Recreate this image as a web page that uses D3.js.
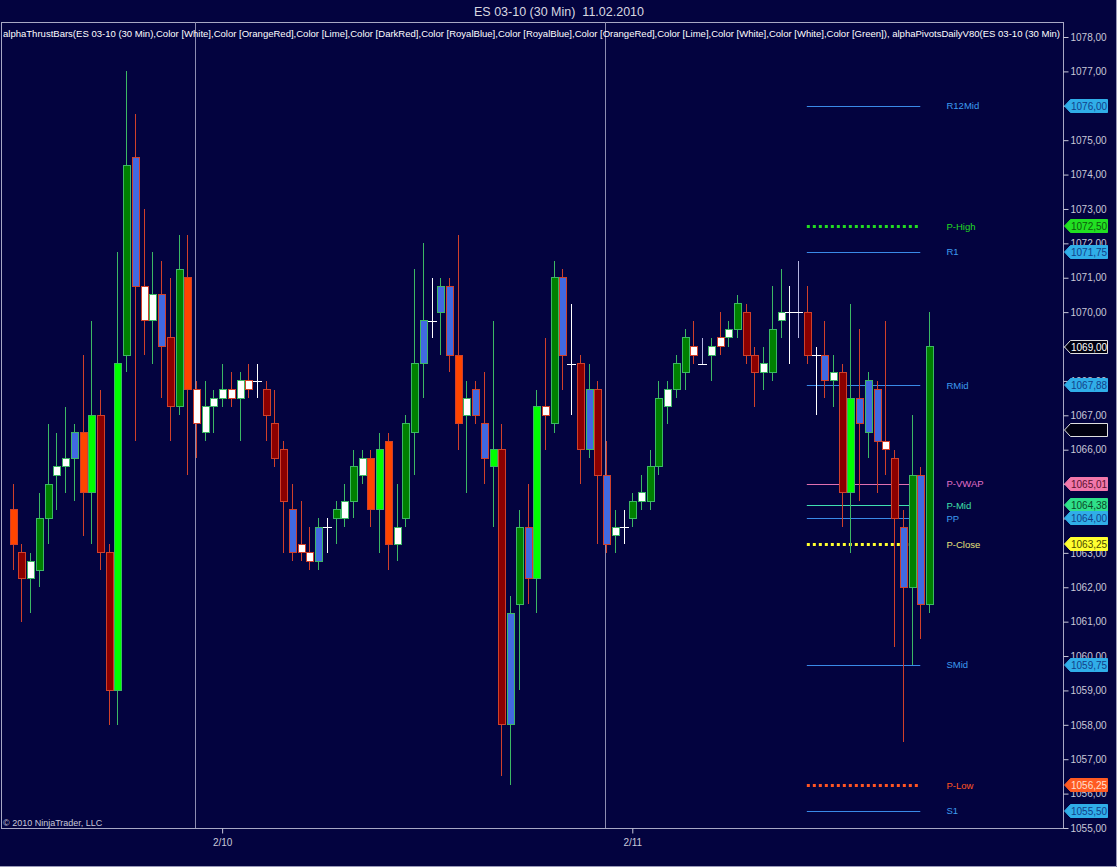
<!DOCTYPE html>
<html>
<head>
<meta charset="utf-8">
<script src="https://cdn.jsdelivr.net/npm/d3@7"></script>
<style>
  body { margin: 0; background: #03033f; }
  svg { display: block; font-family: Arial, "Liberation Sans", sans-serif; }
</style>
</head>
<body>
<svg id="chart" width="1117" height="867"></svg>
<script>
// ES 03-10, 30 min bars
const opens = [1064.25, 1063, 1062.25, 1062.5, 1064, 1065.25, 1065.5, 1065.75, 1066.5, 1064.75,
  1067, 1063, 1059, 1068.75, 1074.5, 1070.75, 1069.75, 1070.5, 1069.25, 1067.25,
  1071, 1067.75, 1066.5, 1067.25, 1067.5, 1067.75, 1067.5, 1068, 1068, 1067.75,
  1066.75, 1066, 1064.25, 1063.25, 1063, 1062.75, 1063.75, 1064, 1064, 1064.5,
  1065.25, 1065.75, 1064.25, 1066.25, 1063.25, 1064, 1066.5, 1068.5, 1069.75, 1070,
  1070.75, 1068.75, 1067, 1067.75, 1066.75, 1065.5, 1066, 1058, 1061.5, 1063.75,
  1062.25, 1067.25, 1066.75, 1071, 1068.5, 1068.5, 1066, 1067.75, 1065.25, 1063.5,
  1063.75, 1064, 1064.5, 1064.5, 1065.5, 1067.25, 1067.75, 1068.25, 1069, 1068.5,
  1068.75, 1069.25, 1069.25, 1069.5, 1070, 1068.75, 1068.25, 1068.25, 1069.75, 1070,
  1070, 1070, 1068.75, 1068.75, 1068, 1068.25, 1064.75, 1067.5, 1066.5, 1067.75,
  1066.25, 1065.75, 1063.75, 1062, 1065.25, 1061.5];
const highs = [1065, 1063.25, 1063, 1064.75, 1066.75, 1066.5, 1067.25, 1066.75, 1068.75, 1069.75,
  1067.75, 1063.25, 1071.75, 1077, 1075.75, 1073, 1071.75, 1071.5, 1071, 1072.25,
  1072.25, 1068, 1068, 1067.75, 1068.5, 1068.25, 1068.25, 1068.5, 1068.5, 1068,
  1067.75, 1066.25, 1065, 1064.5, 1063.75, 1064, 1064, 1064.5, 1065, 1066,
  1066, 1066, 1066.5, 1066.5, 1065, 1067, 1071.25, 1072, 1071, 1071,
  1071, 1072.25, 1068, 1068, 1068.25, 1069.75, 1066.75, 1061.75, 1064.25, 1065,
  1067.75, 1069.25, 1071.5, 1071.25, 1070.25, 1068.75, 1068.5, 1068, 1066.25, 1064.25,
  1064.25, 1064.75, 1065.25, 1066, 1068, 1068, 1068.75, 1069.5, 1069.75, 1069.25,
  1069.25, 1070, 1069.75, 1070.5, 1070.25, 1069, 1069, 1070.75, 1071.25, 1070.75,
  1071.5, 1070.75, 1069, 1069.75, 1068.75, 1068.5, 1070.25, 1069.5, 1068.25, 1068,
  1069.75, 1066, 1064.25, 1067, 1065.5, 1070];
const lows = [1062.5, 1061, 1061.25, 1062, 1063.25, 1064.25, 1064.75, 1064.5, 1063.5, 1063.25,
  1062.5, 1058, 1058, 1068.25, 1066.25, 1068.75, 1068.5, 1067.5, 1066.25, 1067,
  1065.25, 1065.75, 1066.25, 1066.5, 1067.25, 1067.25, 1066.25, 1067.5, 1067.5, 1066.25,
  1065.5, 1063, 1062.75, 1062.75, 1062.5, 1062.5, 1063, 1063.25, 1063.75, 1064,
  1065, 1063.75, 1063, 1062.5, 1062.75, 1063.75, 1065.25, 1067.5, 1069.25, 1068.75,
  1068.25, 1066, 1064.75, 1066.75, 1065, 1063.75, 1056.5, 1056.25, 1059, 1061.5,
  1061.25, 1066, 1066.5, 1067.75, 1067, 1065, 1065.75, 1063.25, 1063, 1063,
  1063.25, 1063.75, 1064.25, 1064.25, 1065.25, 1066.75, 1067.5, 1067.75, 1068.5, 1068.5,
  1068, 1068.75, 1069, 1069.25, 1068.5, 1067.25, 1067.75, 1068, 1069.25, 1068.5,
  1069.25, 1068.5, 1067, 1067.5, 1067.25, 1063.75, 1063, 1064.5, 1065.75, 1064.75,
  1065.25, 1060.25, 1057.5, 1059.75, 1060.5, 1061.25];
const closes = [1063.25, 1062.25, 1062.75, 1064, 1065, 1065.5, 1065.75, 1066.5, 1064.75, 1067,
  1063, 1059, 1068.5, 1074.25, 1070.75, 1069.75, 1070.5, 1069, 1067.25, 1071.25,
  1067.75, 1066.75, 1067.25, 1067.5, 1067.75, 1067.5, 1068, 1067.75, 1068, 1067,
  1065.75, 1064.5, 1063, 1063, 1062.75, 1063.75, 1063.75, 1064.25, 1064.5, 1065.5,
  1065.75, 1064.25, 1066, 1063.25, 1063.75, 1066.75, 1068.5, 1069.75, 1069.75, 1070.75,
  1068.75, 1066.75, 1067.5, 1067, 1065.75, 1066, 1058, 1061.25, 1063.75, 1062.25,
  1067.25, 1067, 1071, 1068.75, 1068.5, 1066, 1067.75, 1065.25, 1063.25, 1063.75,
  1063.75, 1064.5, 1064.75, 1065.5, 1067.5, 1067.75, 1068.5, 1069.25, 1068.75, 1068.5,
  1069, 1069, 1069.5, 1070.25, 1068.75, 1068.25, 1068.5, 1069.5, 1070, 1070,
  1070, 1068.75, 1068.75, 1068, 1068.25, 1064.75, 1067.5, 1066.75, 1068, 1066.25,
  1066, 1064, 1062, 1065.25, 1061.5, 1069];
// W white, O orangered, L lime, D darkred, B royalblue, G green, X / Y doji
const barColors = ["O", "D", "W", "G", "G", "W", "W", "B", "O", "L",
  "D", "D", "L", "G", "B", "W", "W", "B", "D", "G",
  "O", "W", "W", "W", "W", "W", "W", "W", "X", "D",
  "D", "D", "B", "W", "W", "B", "X", "G", "W", "G",
  "W", "O", "L", "O", "W", "G", "G", "B", "X", "B",
  "B", "O", "W", "B", "B", "L", "D", "B", "G", "B",
  "L", "W", "G", "B", "X", "D", "B", "D", "B", "W",
  "X", "G", "W", "G", "G", "W", "G", "G", "W", "Y",
  "W", "W", "W", "G", "D", "D", "W", "G", "W", "X",
  "Y", "D", "X", "B", "W", "D", "L", "B", "B", "B",
  "W", "D", "B", "G", "B", "G"];

const sessionBreaks = [21, 68];
const dateLabels = ["2/10", "2/11"];
const dateBars = [24, 71];

const pivotNames = ["R12Mid", "P-High", "R1", "RMid", "P-VWAP", "P-Mid", "PP", "P-Close", "SMid", "P-Low", "S1"];
const pivotValues = [1076.00, 1072.50, 1071.75, 1067.88, 1065.01, 1064.38, 1064.00, 1063.25, 1059.75, 1056.25, 1055.50];
const blankTags = [1066.57];

const priceTicks = d3.range(1055, 1079);

// styles
const fillMap = { W: "#ffffff", O: "#ff4500", L: "#00ff00", D: "#8b0000", B: "#4169e1", G: "#008000", X: "#ffffff", Y: "#b4b4e0" };
const upColor = "#3cb864", downColor = "#d0402a";
const blueLine = { line: "#3a8ae8", dash: null, w: 1, label: "#3d9cf0", tag: "#30aee8", tagText: "#123f8a" };
const pivotStyle = {
  "R12Mid": blueLine, "R1": blueLine, "RMid": blueLine, "PP": blueLine, "SMid": blueLine, "S1": blueLine,
  "P-High": { line: "#22dd22", dash: "3,3", w: 3, label: "#22dd22", tag: "#22e022", tagText: "#0c5a0c" },
  "P-VWAP": { line: "#e070b0", dash: null, w: 1, label: "#e070c8", tag: "#f277aa", tagText: "#5a1030" },
  "P-Mid": { line: "#40e0b0", dash: null, w: 1, label: "#40e0a8", tag: "#2fe08a", tagText: "#0c4a28" },
  "P-Close": { line: "#ffff30", dash: "3,3", w: 3, label: "#e6e07a", tag: "#ffff30", tagText: "#4a4a00" },
  "P-Low": { line: "#ff5522", dash: "3,3", w: 3, label: "#ff5522", tag: "#ff5a22", tagText: "#ffe0d0" }
};

const svg = d3.select("#chart"),
    width = +svg.attr("width"),
    height = +svg.attr("height");
const plot = { left: 1, right: 1063, top: 22, bottom: 828 };

svg.append("rect").attr("width", width).attr("height", height).attr("fill", "#03033f");

const x = d3.scaleLinear().domain([0, opens.length - 1]).range([12.7, 929]);
const y = d3.scaleLinear().domain([1055, 1078]).range([828, 37]);

const fmt = d3.formatLocale({ decimal: ",", thousands: ".", grouping: [3], currency: ["", ""] }).format(".2f");

// title
svg.append("text")
    .attr("x", 559).attr("y", 16)
    .attr("text-anchor", "middle")
    .attr("fill", "#d8d8e0")
    .style("font-size", "12.5px")
    .style("white-space", "pre")
    .text("ES 03-10 (30 Min)\u00a0 11.02.2010");

// panel frame
svg.append("rect")
    .attr("x", plot.left + 0.5).attr("y", plot.top + 0.5)
    .attr("width", plot.right - plot.left).attr("height", plot.bottom - plot.top)
    .attr("fill", "none").attr("stroke", "#a8a8c4");

// session separators
svg.append("g").selectAll("line")
    .data(sessionBreaks)
    .join("line")
    .attr("x1", d => Math.round(x(d)) - 0.5).attr("x2", d => Math.round(x(d)) - 0.5)
    .attr("y1", plot.top).attr("y2", plot.bottom)
    .attr("stroke", "#8c8cb0").attr("stroke-width", 1);

// pivot lines
const pivots = pivotNames.map((name, i) => ({ name, value: pivotValues[i], s: pivotStyle[name] }));
const pivotG = svg.append("g");
pivotG.selectAll("line")
    .data(pivots)
    .join("line")
    .attr("x1", x(91)).attr("x2", x(104))
    .attr("y1", d => Math.round(y(d.value)) + 0.5).attr("y2", d => Math.round(y(d.value)) + 0.5)
    .attr("stroke", d => d.s.line)
    .attr("stroke-width", d => d.s.w)
    .attr("stroke-dasharray", d => d.s.dash);
pivotG.selectAll("text")
    .data(pivots)
    .join("text")
    .attr("x", x(107))
    .attr("y", d => y(d.value) + 3.5)
    .attr("fill", d => d.s.label)
    .style("font-size", "9.5px")
    .text(d => d.name);

// bars
const bars = opens.map((o, i) => ({ i, o, h: highs[i], l: lows[i], c: closes[i], k: barColors[i] }));
const isDoji = d => d.k === "X" || d.k === "Y";
const barG = svg.append("g").attr("shape-rendering", "crispEdges");

barG.selectAll("line.wick")
    .data(bars)
    .join("line")
    .attr("class", "wick")
    .attr("x1", d => Math.round(x(d.i)) + 0.5).attr("x2", d => Math.round(x(d.i)) + 0.5)
    .attr("y1", d => y(d.h)).attr("y2", d => y(d.l))
    .attr("stroke", d => isDoji(d) ? fillMap[d.k] : (d.c >= d.o ? upColor : downColor));

barG.selectAll("rect.body")
    .data(bars.filter(d => !isDoji(d)))
    .join("rect")
    .attr("class", "body")
    .attr("x", d => Math.round(x(d.i)) - 3)
    .attr("y", d => y(Math.max(d.o, d.c)))
    .attr("width", 7)
    .attr("height", d => Math.max(1, y(Math.min(d.o, d.c)) - y(Math.max(d.o, d.c))))
    .attr("fill", d => fillMap[d.k])
    .attr("stroke", d => d.c >= d.o ? upColor : downColor);

barG.selectAll("line.doji")
    .data(bars.filter(isDoji))
    .join("line")
    .attr("class", "doji")
    .attr("x1", d => Math.round(x(d.i)) - 4).attr("x2", d => Math.round(x(d.i)) + 5)
    .attr("y1", d => Math.round(y(d.o)) + 0.5).attr("y2", d => Math.round(y(d.o)) + 0.5)
    .attr("stroke", "#ffffff");

// indicator caption
svg.append("text")
    .attr("x", 3).attr("y", 37)
    .attr("fill", "#ffffff")
    .attr("textLength", 1057)
    .attr("lengthAdjust", "spacingAndGlyphs")
    .style("font-size", "9.5px")
    .text("alphaThrustBars(ES 03-10 (30 Min),Color [White],Color [OrangeRed],Color [Lime],Color [DarkRed],Color [RoyalBlue],Color [RoyalBlue],Color [OrangeRed],Color [Lime],Color [White],Color [White],Color [Green]), alphaPivotsDailyV80(ES 03-10 (30 Min)");

// copyright
svg.append("text")
    .attr("x", 3).attr("y", 826)
    .attr("fill", "#c8c8d8")
    .style("font-size", "9px")
    .text("\u00a9 2010 NinjaTrader, LLC");

// price axis
const yAxis = svg.append("g")
    .attr("transform", `translate(${plot.right + 0.5},0)`)
    .call(d3.axisRight(y).tickValues(priceTicks).tickFormat(fmt).tickSize(5).tickPadding(2));
yAxis.select(".domain").remove();
yAxis.selectAll("line").attr("stroke", "#c8c8d8");
yAxis.selectAll("text").attr("fill", "#c8c8d8").style("font-size", "10px").style("font-family", "Arial, 'Liberation Sans', sans-serif");

// date axis
const xAxis = svg.append("g")
    .attr("transform", `translate(0,${plot.bottom + 0.5})`)
    .call(d3.axisBottom(x).tickValues(dateBars).tickFormat((d, i) => dateLabels[i]).tickSize(5).tickPadding(5));
xAxis.select(".domain").remove();
xAxis.selectAll("line").attr("stroke", "#c8c8d8");
xAxis.selectAll("text").attr("fill", "#c8c8d8").style("font-size", "10px").style("font-family", "Arial, 'Liberation Sans', sans-serif");

// axis tags (drawn over the tick labels, as in the original)
const tagData = pivots.map(d => ({ v: d.value, fill: d.s.tag, text: d.s.tagText, stroke: d.s.tag, label: fmt(d.value) }))
    .concat([{ v: closes[closes.length - 1], fill: "#000010", text: "#ffffff", stroke: "#e0e0e0", label: fmt(closes[closes.length - 1]) }])
    .concat(blankTags.map(v => ({ v, fill: "#000010", text: "#ffffff", stroke: "#e0e0e0", label: "" })));

const tags = svg.append("g").selectAll("g")
    .data(tagData)
    .join("g")
    .attr("transform", d => `translate(0,${Math.round(y(d.v))})`);
tags.append("path")
    .attr("d", "M1064.5,0 L1070.5,-6.5 L1107.5,-6.5 L1107.5,6.5 L1070.5,6.5 Z")
    .attr("fill", d => d.fill)
    .attr("stroke", d => d.stroke);
tags.append("text")
    .attr("x", 1071).attr("y", 4)
    .attr("fill", d => d.text)
    .style("font-size", "10px")
    .text(d => d.label);

// outer border
svg.append("path")
    .attr("d", `M${width - 0.5},0 V${height - 0.5} H0`)
    .attr("fill", "none").attr("stroke", "#9a9ab8");
</script>
</body>
</html>
